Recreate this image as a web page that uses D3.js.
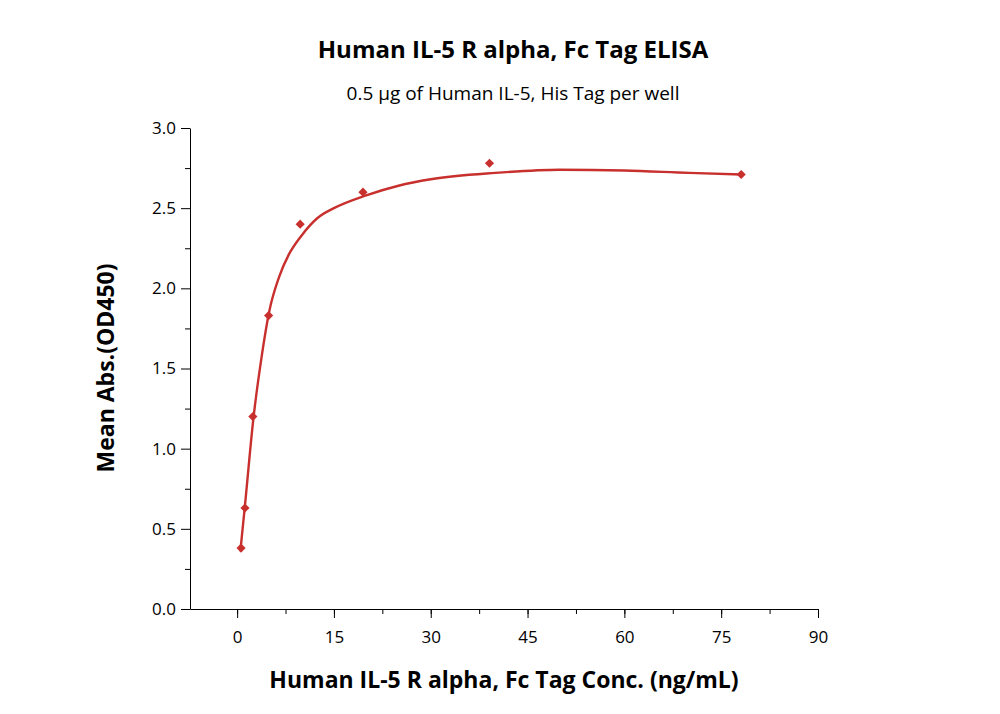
<!DOCTYPE html>
<html><head><meta charset="utf-8">
<script src="https://cdn.jsdelivr.net/npm/d3@7"></script>
<style>body{margin:0;background:#fff}text{font-family:"Open Sans",sans-serif}</style>
</head><body>
<svg width="1000" height="714"></svg>
<script>
// measured points
const conc = [0.61, 1.22, 2.44, 4.88, 9.77, 19.5, 39.1, 78.1];
const od = [0.38, 0.63, 1.20, 1.83, 2.40, 2.60, 2.78, 2.71];
// fitted curve
const fitX = [0.5, 1.25, 2.5, 3.75, 5, 6.5, 8, 10, 12.5, 15, 20, 25, 30, 40, 50, 60, 70, 78.1];
const fitY = [0.36, 0.66, 1.18, 1.56, 1.86, 2.07, 2.21, 2.33, 2.44, 2.50, 2.58, 2.64, 2.68, 2.72, 2.74, 2.735, 2.72, 2.71];
const xTicks = [0, 15, 30, 45, 60, 75, 90];
const yTicks = [0, 0.5, 1, 1.5, 2, 2.5, 3];

const svg = d3.select("svg");
const x = d3.scaleLinear().domain([-7.3, 90]).range([190, 818]);
const y = d3.scaleLinear().domain([0, 3]).range([609, 128]);
const red = "#c8302e";

svg.append("g").attr("transform", "translate(0,609)")
  .call(d3.axisBottom(x).tickValues(d3.range(-7.5, 90, 7.5).filter(v => v >= -7.3)).tickSize(5).tickFormat(""))
  .call(g => g.select(".domain").remove());
svg.append("g").attr("transform", "translate(0,609)")
  .call(d3.axisBottom(x).tickValues(xTicks).tickSize(9).tickSizeOuter(0))
  .call(g => g.selectAll("text").attr("font-size", 17).attr("dy", "1.3em"));
svg.append("g").attr("transform", "translate(190,0)")
  .call(d3.axisLeft(y).tickValues(d3.range(0.25, 3, 0.5)).tickSize(5).tickFormat(""))
  .call(g => g.select(".domain").remove());
svg.append("g").attr("transform", "translate(190,0)")
  .call(d3.axisLeft(y).tickValues(yTicks).tickSize(9).tickSizeOuter(0).tickFormat(d3.format(".1f")))
  .call(g => g.selectAll("text").attr("font-size", 17).attr("x", -14));

svg.append("path").datum(fitX.map((v, i) => [v, fitY[i]]))
  .attr("fill", "none").attr("stroke", red).attr("stroke-width", 2.4)
  .attr("d", d3.line().x(d => x(d[0])).y(d => y(d[1])).curve(d3.curveMonotoneX));

svg.selectAll(".pt").data(conc).join("path")
  .attr("transform", (d, i) => `translate(${x(d)},${y(od[i])}) rotate(45)`)
  .attr("d", d3.symbol(d3.symbolSquare, 42)).attr("fill", red);

svg.append("text").attr("x", 513).attr("y", 58).attr("text-anchor", "middle")
  .attr("font-size", 24).attr("font-weight", "bold").text("Human IL-5 R alpha, Fc Tag ELISA");
svg.append("text").attr("x", 513).attr("y", 100).attr("text-anchor", "middle")
  .attr("font-size", 19).text("0.5 μg of Human IL-5, His Tag per well");
svg.append("text").attr("x", 504).attr("y", 688).attr("text-anchor", "middle")
  .attr("font-size", 23).attr("font-weight", "bold").text("Human IL-5 R alpha, Fc Tag Conc. (ng/mL)");
svg.append("text").attr("transform", "translate(114,368) rotate(-90)").attr("text-anchor", "middle")
  .attr("font-size", 23).attr("font-weight", "bold").text("Mean Abs.(OD450)");
</script>
</body></html>
